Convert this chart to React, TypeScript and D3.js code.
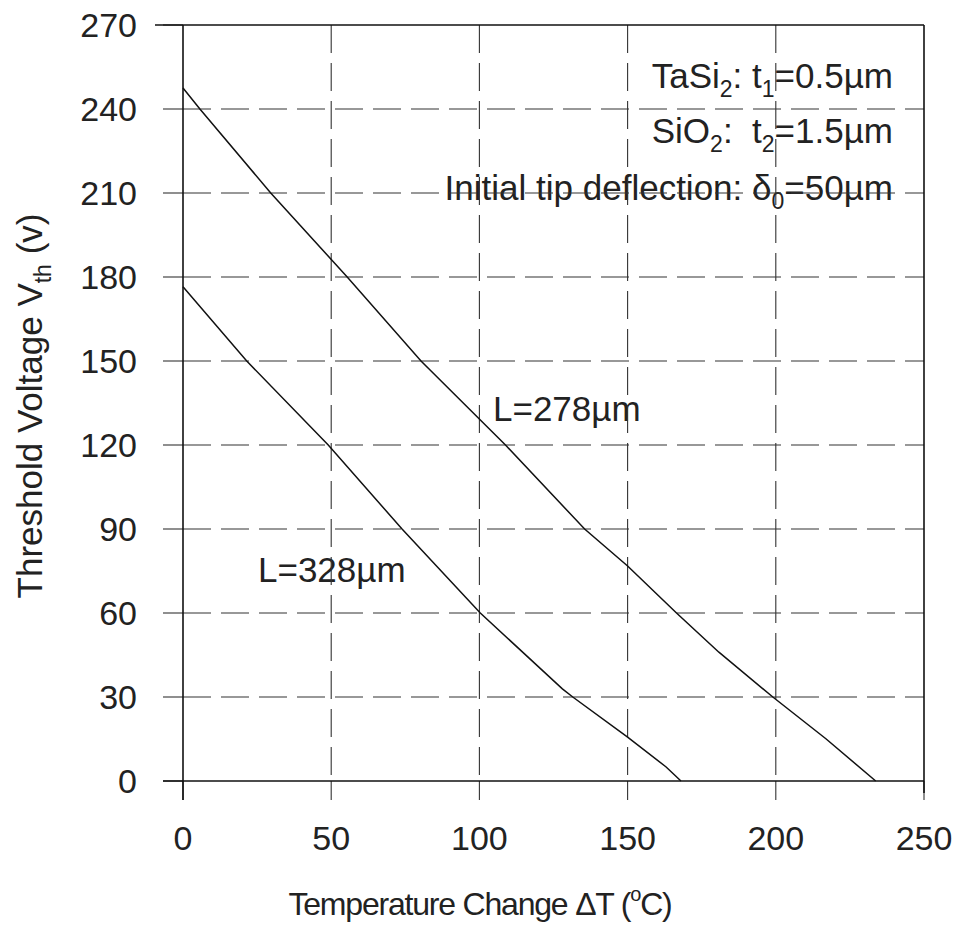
import * as d3 from "d3";
import { useEffect, useRef } from "react";

// values
const xTicks = [0, 50, 100, 150, 200, 250];
const yTicks = [0, 30, 60, 90, 120, 150, 180, 210, 240, 270];

const dT278 = [0, 5.7, 29.6, 55.4, 80.3, 108.8, 135.5, 150, 166.5, 180.8, 199, 217, 233.7];
const vth278 = [247.5, 240, 210, 180, 150, 120, 90, 76.8, 60, 46, 30, 15, 0];

const dT328 = [0, 21.5, 49, 73.9, 100.3, 128, 131.5, 150, 163, 168];
const vth328 = [176.5, 150, 120, 90, 60, 32.9, 30, 15.7, 5, 0];

const FONT = "'Liberation Sans', Arial, Helvetica, sans-serif";
const INK = "#222";

const App = () => {
  const svgRef = useRef<SVGSVGElement | null>(null);

  useEffect(() => {
    const svg = d3.select(svgRef.current);
    svg.selectAll("*").remove();

    const left = 183, right = 924, top = 25, bottom = 781;
    const x = d3.scaleLinear().domain([0, 250]).range([left, right]);
    const y = d3.scaleLinear().domain([0, 270]).range([bottom, top]);

    const textG = svg.append("g").attr("font-family", FONT).attr("fill", INK);

    // annotations (drawn under the grid, as in the original)
    const ann1 = textG.append("text").attr("x", 893).attr("y", 88).attr("text-anchor", "end").attr("font-size", 35);
    ann1.append("tspan").text("TaSi");
    ann1.append("tspan").attr("font-size", 23).attr("dy", 9).text("2");
    ann1.append("tspan").attr("dy", -9).text(": t");
    ann1.append("tspan").attr("font-size", 23).attr("dy", 9).text("1");
    ann1.append("tspan").attr("dy", -9).text("=0.5\u00b5m");

    const ann2 = textG.append("text").attr("x", 893).attr("y", 143).attr("text-anchor", "end").attr("font-size", 35);
    ann2.append("tspan").text("SiO");
    ann2.append("tspan").attr("font-size", 23).attr("dy", 9).text("2");
    ann2.append("tspan").attr("dy", -9).text(":\u00a0 t");
    ann2.append("tspan").attr("font-size", 23).attr("dy", 9).text("2");
    ann2.append("tspan").attr("dy", -9).text("=1.5\u00b5m");

    const ann3 = textG.append("text").attr("x", 893).attr("y", 200).attr("text-anchor", "end").attr("font-size", 35);
    ann3.append("tspan").text("Initial tip deflection: \u03b4");
    ann3.append("tspan").attr("font-size", 23).attr("dy", 9).text("0");
    ann3.append("tspan").attr("dy", -9).text("=50\u00b5m");

    textG.append("text").attr("x", 493).attr("y", 421).attr("font-size", 35).text("L=278\u00b5m");
    textG.append("text").attr("x", 258).attr("y", 582).attr("font-size", 35).text("L=328\u00b5m");

    // grid
    const grid = svg.append("g").attr("stroke", "#333").attr("stroke-width", 1.1);
    grid.selectAll(".hgrid")
      .data(yTicks.filter((d) => d > 0 && d < 270))
      .enter()
      .append("line")
      .attr("x1", left).attr("x2", right)
      .attr("y1", (d) => y(d)).attr("y2", (d) => y(d))
      .attr("stroke-dasharray", "28,10");
    grid.selectAll(".vgrid")
      .data(xTicks.filter((d) => d > 0 && d < 250))
      .enter()
      .append("line")
      .attr("x1", (d) => x(d)).attr("x2", (d) => x(d))
      .attr("y1", top).attr("y2", bottom)
      .attr("stroke-dasharray", "28,10");

    // tick marks outside the frame
    grid.selectAll(".ytick")
      .data(yTicks)
      .enter()
      .append("line")
      .attr("x1", left - 20).attr("x2", left)
      .attr("y1", (d) => y(d)).attr("y2", (d) => y(d));
    grid.selectAll(".xtick")
      .data(xTicks)
      .enter()
      .append("line")
      .attr("x1", (d) => x(d)).attr("x2", (d) => x(d))
      .attr("y1", bottom).attr("y2", bottom + 19);

    // frame
    const frame = svg.append("g").attr("stroke", "#111").attr("stroke-width", 1.6);
    frame.append("line").attr("x1", left).attr("x2", left).attr("y1", top).attr("y2", bottom + 19);
    frame.append("line").attr("x1", left - 28).attr("x2", right).attr("y1", top).attr("y2", top);
    frame.append("line").attr("x1", left - 20).attr("x2", right).attr("y1", bottom).attr("y2", bottom);
    frame.append("line").attr("x1", right).attr("x2", right).attr("y1", top).attr("y2", bottom + 12);

    // curves
    const draw = (xs: number[], ys: number[]) => {
      const path = d3.line<number>().x((d) => x(d)).y((_, i) => y(ys[i]));
      svg.append("path")
        .attr("d", path(xs))
        .attr("fill", "none")
        .attr("stroke", "#111")
        .attr("stroke-width", 1.5);
    };
    draw(dT278, vth278);
    draw(dT328, vth328);

    // tick labels
    const tl = svg.append("g").attr("font-family", FONT).attr("fill", INK).attr("font-size", 34);
    tl.selectAll(".yl")
      .data(yTicks)
      .enter()
      .append("text")
      .attr("x", 137)
      .attr("y", (d) => y(d) + 12)
      .attr("text-anchor", "end")
      .text((d) => d);
    tl.selectAll(".xl")
      .data(xTicks)
      .enter()
      .append("text")
      .attr("x", (d) => x(d))
      .attr("y", 850)
      .attr("text-anchor", "middle")
      .text((d) => d);

    // axis titles
    const xt = svg.append("text")
      .attr("font-family", FONT).attr("fill", INK).attr("font-size", 32)
      .attr("letter-spacing", -1.2)
      .attr("x", 480).attr("y", 915).attr("text-anchor", "middle");
    xt.append("tspan").text("Temperature Change \u0394T (");
    xt.append("tspan").attr("font-size", 20).attr("dy", -14).text("o");
    xt.append("tspan").attr("dy", 14).text("C)");

    const yt = svg.append("text")
      .attr("font-family", FONT).attr("fill", INK).attr("font-size", 35)
      .attr("transform", "translate(42,406)rotate(-90)")
      .attr("text-anchor", "middle");
    yt.append("tspan").text("Threshold Voltage V");
    yt.append("tspan").attr("font-size", 23).attr("dy", 9).text("th");
    yt.append("tspan").attr("dy", -9).text(" (v)");
  }, []);

  return (
    <svg
      ref={svgRef}
      width={960}
      height={925}
      style={{ position: "absolute", left: 0, top: 0, background: "#fff" }}
    />
  );
};

export default App;
